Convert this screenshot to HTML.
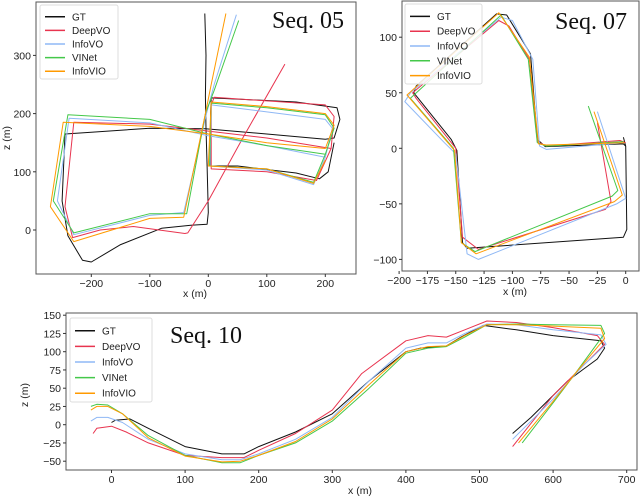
<!DOCTYPE html>
<html><head><meta charset="utf-8"><style>
html,body{margin:0;padding:0;background:#fff;width:640px;height:496px;overflow:hidden}
svg{display:block;font-family:"Liberation Sans",sans-serif}
.t{font-size:10.5px;fill:#222}
.seq{font-family:"Liberation Serif",serif;font-size:24px;fill:#111}
.lg{font-size:10px;fill:#222}
</style></head><body>
<svg id="c" width="640" height="496"></svg>
<script>
const seriesNames=["GT","DeepVO","InfoVO","VINet","InfoVIO"];
const seriesColors=["#111111","#e8344f","#8fb8f5","#44c84a","#ff9a00"];
// Seq 05 trajectories [x,z]
const s05GT=[[-6,372],[-4,300],[-5,230],[-4,175],[-2,110],[0,30],[-2,10],[-30,8],[-80,3],[-150,-25],[-200,-55],[-215,-52],[-240,-10],[-250,50],[-245,165],[-200,168],[-100,175],[-5,174],[100,165],[200,156],[215,158],[225,190],[220,210],[150,220],[50,225],[5,227],[4,200],[4,110],[50,110],[150,98],[190,88],[205,100],[215,150]];
const s05Deep=[[131,285],[60,160],[0,50],[-35,-5],[-40,-6],[-128,6],[-185,0],[-232,-13],[-245,40],[-230,185],[-100,182],[0,170],[100,158],[210,140],[215,195],[200,215],[10,228],[5,215],[5,105],[100,100],[185,85],[210,140]];
const s05Info=[[48,370],[10,250],[-3,200],[-42,30],[-100,25],[-230,-8],[-258,50],[-238,192],[-100,184],[0,162],[100,145],[200,125],[212,175],[200,190],[100,203],[5,215],[3,110],[100,103],[180,78],[200,125]];
const s05VINet=[[52,360],[10,240],[-5,200],[-37,28],[-100,28],[-230,-5],[-265,50],[-240,198],[-100,190],[0,165],[100,145],[200,130],[215,175],[200,198],[100,210],[5,218],[2,110],[100,105],[180,82],[200,130]];
const s05VIO=[[30,372],[5,250],[-5,200],[-42,22],[-100,20],[-230,-20],[-270,40],[-248,185],[-100,178],[0,165],[100,150],[200,140],[215,180],[200,200],[100,212],[5,220],[0,110],[100,105],[180,80],[200,120]];
// Seq 07
const s07GT=[[-2,10],[0,2],[1,-73],[-2,-80],[-140,-90],[-144,-85],[-149,-2],[-154,8],[-187,50],[-185,56],[-114,121],[-105,120],[-84,85],[-78,8],[-71,1.5],[-2,4],[0,2]];
const s07Deep=[[-25,23],[-13,-48],[-18,-55],[-130,-91],[-144,-80],[-150,0],[-185,45],[-188,50],[-112,115],[-103,110],[-85,80],[-78,6],[-70,2],[-5,7],[0,5]];
const s07Info=[[-25,33],[0,-45],[-8,-50],[-130,-100],[-140,-95],[-150,-5],[-160,5],[-195,42],[-190,50],[-110,118],[-100,115],[-82,80],[-76,2],[-70,-1],[-2,5]];
const s07VINet=[[-33,38],[-7,-38],[-12,-43],[-133,-93],[-145,-85],[-152,0],[-190,45],[-110,120],[-86,80],[-78,5],[-70,2],[-2,6]];
const s07VIO=[[-28,33],[-3,-42],[-10,-48],[-132,-95],[-145,-85],[-151,-2],[-193,48],[-112,122],[-85,82],[-77,4],[-70,3],[-1,5]];
// Seq 10
const s10GT=[[0,3],[5,6],[25,8],[50,-5],[100,-30],[150,-40],[180,-40],[200,-30],[250,-10],[300,15],[350,60],[400,100],[420,105],[455,108],[475,120],[505,136],[550,130],[600,122],[665,115],[670,105],[660,90],[640,75],[620,60],[600,40],[570,10],[545,-12]];
const s10Deep=[[-25,-12],[-20,-5],[0,-2],[20,-10],[50,-25],[100,-42],[150,-45],[180,-45],[200,-35],[250,-12],[300,20],[340,70],[400,115],[430,122],[455,120],[480,130],[510,142],[550,140],[600,133],[660,122],[670,110],[640,80],[600,40],[545,-30]];
const s10Info=[[-28,5],[-20,10],[-5,10],[15,3],[50,-20],[100,-40],[150,-48],[175,-48],[200,-40],[250,-20],[300,10],[350,60],[400,105],[430,112],[455,112],[480,125],[510,138],[550,137],[600,130],[665,123],[672,110],[640,80],[600,35],[545,-20]];
const s10VINet=[[-28,25],[-20,28],[-5,27],[15,15],[50,-15],[100,-42],[150,-52],[175,-52],[200,-42],[250,-25],[300,5],[350,50],[400,98],[430,105],[455,107],[480,120],[510,137],[550,138],[600,137],[665,136],[670,125],[630,70],[600,30],[558,-25]];
const s10VIO=[[-28,20],[-20,25],[-5,25],[15,15],[50,-18],[100,-43],[150,-51],[175,-50],[200,-42],[250,-23],[300,8],[350,55],[400,100],[430,107],[455,108],[480,122],[510,137],[550,137],[600,135],[665,132],[670,118],[630,70],[600,32],[553,-25]];
const xt05=[-200,-100,0,100,200], yt05=[0,100,200,300];
const xt07=[-200,-175,-150,-125,-100,-75,-50,-25,0], yt07=[-100,-50,0,50,100];
const xt10=[0,100,200,300,400,500,600,700], yt10=[-50,-25,0,25,50,75,100,125,150];

const NS="http://www.w3.org/2000/svg";
const svg=document.getElementById('c');
function mk(tag,attrs,parent){const e=document.createElementNS(NS,tag);for(const k in attrs)e.setAttribute(k,attrs[k]);(parent||svg).appendChild(e);return e;}
function panel(P){
  const g=mk('g',{});
  
  
  const sx=v=>P.x0+v*P.kx, sy=v=>P.y0-v*P.ky;
  const box=mk('rect',{x:P.L,y:P.T,width:P.R-P.L,height:P.B-P.T,fill:'none',stroke:'#555','stroke-width':1},g);
  
  
  P.series.forEach((d,i)=>{
    const pl=mk('polyline',{points:d.map(p=>sx(p[0]).toFixed(1)+','+sy(p[1]).toFixed(1)).join(' '),fill:'none',stroke:seriesColors[i],'stroke-width':1,'stroke-linejoin':'round'},g);
    
    
  });
  P.xt.forEach(v=>{
    mk('line',{x1:sx(v),x2:sx(v),y1:P.B,y2:P.B+3,stroke:'#333'},g);
    const t=mk('text',{x:sx(v),y:P.B+13,'text-anchor':'middle',class:'t'},g);t.textContent=(v<0?'\u2212'+(-v):v);
    
    
  });
  P.yt.forEach(v=>{
    mk('line',{x1:P.L-3,x2:P.L,y1:sy(v),y2:sy(v),stroke:'#333'},g);
    const t=mk('text',{x:P.L-5,y:sy(v)+4,'text-anchor':'end',class:'t'},g);t.textContent=(v<0?'\u2212'+(-v):v);
    
    
  });
  if(P.xl){const t=mk('text',{x:P.xl[0],y:P.xl[1],'text-anchor':'middle',class:'t'},g);t.textContent='x (m)';
    
    }
  if(P.yl){const t=mk('text',{x:P.yl[0],y:P.yl[1],'text-anchor':'middle',class:'t',transform:'rotate(-90 '+P.yl[0]+' '+P.yl[1]+')'},g);t.textContent='z (m)';
    
    }
  const lg=mk('g',{},g);
  
  
  mk('rect',{x:P.lg[0],y:P.lg[1],width:P.lg[2],height:P.lg[3],fill:'#fff','fill-opacity':0.85,stroke:'#ddd',rx:2},lg);
  const step=(P.lg[3]-6)/5;
  seriesNames.forEach((n,i)=>{
    const yy=P.lg[1]+5+step*(i+0.5);
    mk('line',{x1:P.lg[0]+5,x2:P.lg[0]+25,y1:yy,y2:yy,stroke:seriesColors[i],'stroke-width':1.5},lg);
    const t=mk('text',{x:P.lg[0]+32,y:yy+3.5,class:'lg'},lg);t.textContent=n;
    
    
  });
  const ti=mk('text',{x:P.title[0],y:P.title[1],class:'seq'},g);ti.textContent=P.titleText;
  
  
}
panel({name:'seq05-chart',L:36,R:356,T:2,B:274,x0:208.3,kx:0.585,y0:230,ky:0.582,xt:xt05,yt:yt05,
  series:[s05GT,s05Deep,s05Info,s05VINet,s05VIO],xl:[195,297],yl:[10,138],lg:[40,5,78,74],title:[272,28],titleText:'Seq. 05'});
panel({name:'seq07-chart',L:402,R:639,T:1,B:271,x0:625.7,kx:1.133,y0:148.3,ky:1.111,xt:xt07,yt:yt07,
  series:[s07GT,s07Deep,s07Info,s07VINet,s07VIO],xl:[515,295],yl:null,lg:[405,4,77,80],title:[555,29],titleText:'Seq. 07'});
panel({name:'seq10-chart',L:66,R:637,T:313,B:470,x0:111.5,kx:0.736,y0:424.7,ky:0.73,xt:xt10,yt:yt10,
  series:[s10GT,s10Deep,s10Info,s10VINet,s10VIO],xl:[360,494],yl:[28,395],lg:[70,318,82,84],title:[170,343],titleText:'Seq. 10'});
</script>
</body></html>
